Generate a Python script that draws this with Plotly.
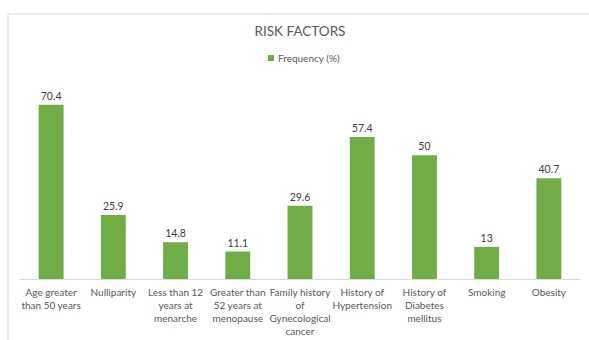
import plotly.graph_objects as go

categories = ["Age greater<br>than 50 years", "Nulliparity", "Less than 12<br>years at<br>menarche",
              "Greater than<br>52 years at<br>menopause", "Family history<br>of<br>Gynecological<br>cancer",
              "History of<br>Hypertension", "History of<br>Diabetes<br>mellitus", "Smoking", "Obesity"]
values = [70.4, 25.9, 14.8, 11.1, 29.6, 57.4, 50, 13, 40.7]
series_name = "Frequency (%)"
title_text = "RISK FACTORS"

FONT = "Lato"
GREEN = "#70AD47"
W, H = 589, 340
L, R, T, B = 20, 9, 81, 61
pw, ph = W - L - R, H - T - B

fig = go.Figure(go.Bar(
    x=categories, y=values, name=series_name,
    marker=dict(color=GREEN, line=dict(width=0)),
    text=[f"{v:g}" for v in values], textposition="outside",
    textfont=dict(size=10.5, color="#404040", family=FONT),
    cliponaxis=False, showlegend=False,
))

def px_x(p):
    return (p - L) / pw

def px_y(p):
    return (H - B - p) / ph

fig.update_layout(
    width=W, height=H,
    margin=dict(l=L, r=R, t=T, b=B, autoexpand=False),
    paper_bgcolor="white", plot_bgcolor="white",
    bargap=0.6,
    title=dict(text=title_text, x=px_x(300), xref="paper", xanchor="center", y=1 - 31 / H, yanchor="middle",
               font=dict(size=13.5, color="#595959", family=FONT)),
    xaxis=dict(showline=True, linecolor="#d9d9d9", linewidth=1, ticks="",
               ticklabelstandoff=4, automargin=False,
               tickfont=dict(size=10, color="#595959", family=FONT), tickangle=0,
               showgrid=False, zeroline=False),
    yaxis=dict(range=[0, 80], visible=False, showgrid=False, zeroline=False, automargin=False),
    shapes=[dict(type="rect", xref="paper", yref="paper",
                 x0=px_x(8), x1=px_x(W + 20), y0=px_y(H + 20), y1=px_y(14),
                 line=dict(color="#d9d9d9", width=1), fillcolor="rgba(0,0,0,0)", layer="below"),
            dict(type="rect", xref="paper", yref="paper",
                 x0=px_x(268), x1=px_x(274), y0=px_y(61), y1=px_y(55),
                 line=dict(width=0), fillcolor=GREEN)],
    annotations=[dict(text=series_name, xref="paper", yref="paper", x=px_x(276), y=px_y(58),
                      xanchor="left", yanchor="middle", showarrow=False,
                      font=dict(size=10, color="#595959", family=FONT))],
)

fig.write_html("out.html")
